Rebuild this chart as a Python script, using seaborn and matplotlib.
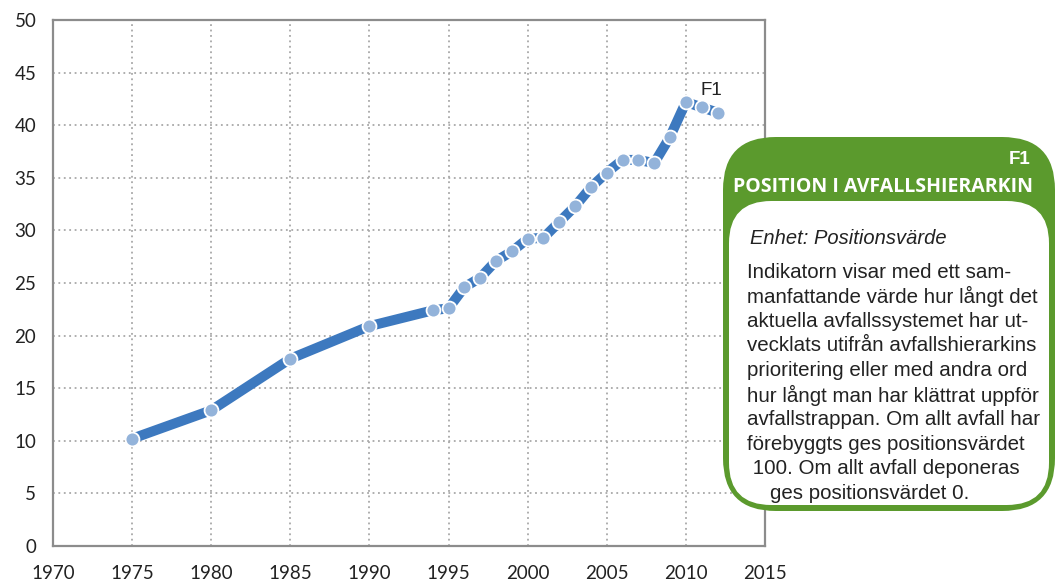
import matplotlib
matplotlib.use("Agg")
import matplotlib.pyplot as plt
import seaborn as sns
import pandas as pd
from matplotlib.patches import FancyBboxPatch

# Data
years = [1975, 1980, 1985, 1990, 1994, 1995, 1996, 1997, 1998, 1999, 2000,
         2001, 2002, 2003, 2004, 2005, 2006, 2007, 2008, 2009, 2010, 2011, 2012]
values = [10.2, 12.9, 17.8, 20.9, 22.4, 22.6, 24.6, 25.5, 27.1, 28.0, 29.2,
          29.3, 30.8, 32.3, 34.1, 35.5, 36.7, 36.7, 36.4, 38.9, 42.2, 41.7, 41.2]
x_ticks = list(range(1970, 2016, 5))
y_ticks = list(range(0, 51, 5))

series_label = "F1"
box_title = "POSITION I AVFALLSHIERARKIN"
box_unit = "Enhet: Positionsvärde"
box_lines = [
    "Indikatorn visar med ett sam-",
    "manfattande värde hur långt det",
    "aktuella avfallssystemet har ut-",
    "vecklats utifrån avfallshierarkins",
    "prioritering eller med andra ord",
    "hur långt man har klättrat uppför",
    "avfallstrappan. Om allt avfall har",
    "förebyggts ges positionsvärdet",
    " 100. Om allt avfall deponeras",
    "    ges positionsvärdet 0.",
]

df = pd.DataFrame({"year": years, "value": values})

sns.set_style("white")
plt.rcParams["font.family"] = ["Liberation Sans", "DejaVu Sans"]

W, H = 1056, 584
fig = plt.figure(figsize=(W / 100, H / 100), dpi=100)
ax = fig.add_axes([53 / W, 1 - 546 / H, (765 - 53) / W, (546 - 20) / H])

sns.lineplot(data=df, x="year", y="value", ax=ax, color="#3d79bf", linewidth=7.2,
             marker="o", markersize=10, markerfacecolor="#93b3da",
             markeredgecolor="white", markeredgewidth=1.3, zorder=3)

ax.set_xlim(1970, 2015)
ax.set_ylim(0, 50)
ax.set_xticks(x_ticks)
ax.set_yticks(y_ticks)
ax.set_xlabel("")
ax.set_ylabel("")
ax.grid(True, color="#a8a8a8", linestyle=(0, (1, 2)), linewidth=1.3)
for s in ax.spines.values():
    s.set_color("#8c8c8c")
    s.set_linewidth(1.6)
ax.tick_params(axis="both", length=0, labelsize=13.5, colors="#222222")
ax.tick_params(axis="x", pad=14)
ax.tick_params(axis="y", pad=12)
for lbl in ax.get_xticklabels() + ax.get_yticklabels():
    lbl.set_family(["Lato", "DejaVu Sans"])

ax.text(years[-1] - 1.1, 43.3, series_label, fontsize=13.5, color="#222222",
        ha="left", va="center")

# Info box in figure pixel coordinates
def fx(px):
    return px / W

def fy(py):
    return 1 - py / H

green = "#5b9a2d"
outer = FancyBboxPatch((fx(723), fy(511)), fx(1055) - fx(723), fy(137) - fy(511),
                       boxstyle="round,pad=0,rounding_size=0.05",
                       transform=fig.transFigure, facecolor=green, edgecolor="none",
                       zorder=10, mutation_aspect=W / H)
fig.patches.append(outer)
inner = FancyBboxPatch((fx(729), fy(505)), fx(1049) - fx(729), fy(201) - fy(505),
                       boxstyle="round,pad=0,rounding_size=0.04",
                       transform=fig.transFigure, facecolor="white", edgecolor="none",
                       zorder=11, mutation_aspect=W / H)
fig.patches.append(inner)

fig.text(fx(1030), fy(160), "F1", ha="right", va="center", color="white",
         fontsize=13.5, fontweight="bold", zorder=12)
fig.text(fx(883), fy(187), box_title, ha="center", va="center", color="white",
         fontsize=14, fontweight="bold", zorder=12, family=["Open Sans", "DejaVu Sans"])
fig.text(fx(750), fy(239), box_unit, ha="left", va="center", color="#222222",
         fontsize=14.5, style="italic", zorder=12)
for i, line in enumerate(box_lines):
    fig.text(fx(747), fy(272 + i * 24.6), line, ha="left", va="center",
             color="#222222", fontsize=14.8, zorder=12)

fig.savefig("out.png", dpi=100)
